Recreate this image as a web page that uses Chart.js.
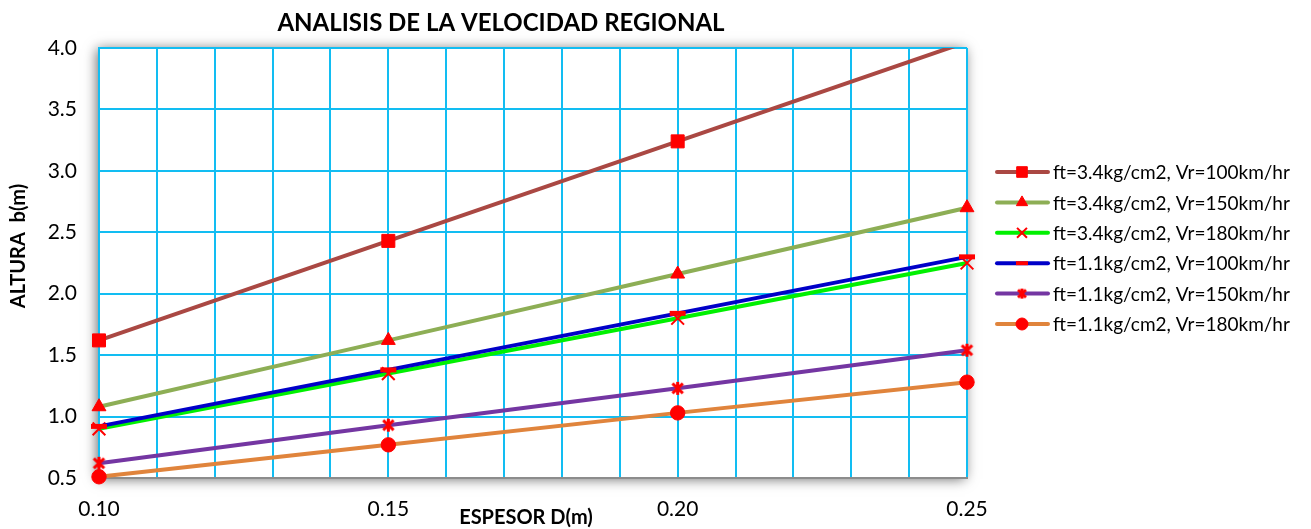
<!DOCTYPE html>
<html><head><meta charset="utf-8">
<script src="https://cdn.jsdelivr.net/npm/chart.js@4.4.1/dist/chart.umd.min.js"></script>
<style>html,body{margin:0;padding:0;background:#fff;}canvas{display:block;}</style>
</head><body>
<canvas id="c" width="1311" height="529"></canvas>
<script>
// ---- data ----
const chartTitle = 'ANALISIS DE LA VELOCIDAD REGIONAL';
const xTitle = 'ESPESOR D(m)';
const yTitle = 'ALTURA  b(m)';
const espesor = [0.10, 0.15, 0.20, 0.25];
const xTickLabels = ['0.10', '0.15', '0.20', '0.25'];
const yTickLabels = ['0.5', '1.0', '1.5', '2.0', '2.5', '3.0', '3.5', '4.0'];
const seriesLabels = [
  'ft=3.4kg/cm2, Vr=100km/hr',
  'ft=3.4kg/cm2, Vr=150km/hr',
  'ft=3.4kg/cm2, Vr=180km/hr',
  'ft=1.1kg/cm2, Vr=100km/hr',
  'ft=1.1kg/cm2, Vr=150km/hr',
  'ft=1.1kg/cm2, Vr=180km/hr'
];
const ft34vr100 = [1.62, 2.43, 3.24, 4.05];
const ft34vr150 = [1.08, 1.62, 2.16, 2.70];
const ft34vr180 = [0.90, 1.35, 1.80, 2.25];
const ft11vr100 = [0.92, 1.38, 1.84, 2.30];
const ft11vr150 = [0.62, 0.93, 1.23, 1.54];
const ft11vr180 = [0.51, 0.77, 1.03, 1.28];
const seriesValues = [ft34vr100, ft34vr150, ft34vr180, ft11vr100, ft11vr150, ft11vr180];

// ---- styles ----
const FONT = 'Lato, "Open Sans", sans-serif';
const GRID = '#12BDF2';
const MARK = '#FF0000';
const lineColors = ['#AA4843', '#8DAE55', '#00F000', '#0000C8', '#7436A2', '#E0843C'];
const Y_MIN = 0.5, Y_MAX = 4.0;

function starImg(size) {
  const c = document.createElement('canvas');
  c.width = size; c.height = size;
  const g = c.getContext('2d');
  g.strokeStyle = MARK; g.lineWidth = 3; g.lineCap = 'butt';
  const m = size / 2, r = size / 2 - 2;
  g.beginPath();
  g.moveTo(m - r * 0.8, m - r * 0.75); g.lineTo(m + r * 0.8, m + r * 0.75);
  g.moveTo(m + r * 0.8, m - r * 0.75); g.lineTo(m - r * 0.8, m + r * 0.75);
  g.moveTo(m, m - r); g.lineTo(m, m + r);
  g.stroke();
  return c;
}
const marker = [
  {pointStyle: 'rect', radius: 9.2, border: 1},
  {pointStyle: 'triangle', radius: 8, border: 1},
  {pointStyle: 'crossRot', radius: 9, border: 2},
  {pointStyle: 'line', radius: 8, border: 5},
  {pointStyle: starImg(17), radius: 8, border: 1},
  {pointStyle: 'circle', radius: 7.2, border: 1}
];
const legendMarker = [
  {pointStyle: 'rect', radius: 7.5, border: 1},
  {pointStyle: 'triangle', radius: 6.5, border: 1},
  {pointStyle: 'crossRot', radius: 7, border: 2},
  {pointStyle: 'line', radius: 6, border: 4},
  {pointStyle: starImg(14), radius: 7, border: 1},
  {pointStyle: 'circle', radius: 6, border: 1}
];

const datasets = seriesValues.map((vals, i) => ({
  label: seriesLabels[i],
  data: espesor.map((x, j) => ({x: x, y: vals[j]})),
  borderColor: lineColors[i],
  borderWidth: 4,
  backgroundColor: lineColors[i],
  pointStyle: marker[i].pointStyle,
  pointRadius: ctx => (ctx.raw && ctx.raw.y > Y_MAX) ? 0 : marker[i].radius,
  pointBorderWidth: marker[i].border,
  pointBackgroundColor: MARK,
  pointBorderColor: MARK,
  tension: 0,
  order: seriesValues.length - i,
  clip: {left: 30, right: 30, top: 0, bottom: 30}
}));

const plotShadow = {
  id: 'plotShadow',
  beforeDraw(chart) {
    const a = chart.chartArea, ctx = chart.ctx;
    ctx.save();
    ctx.shadowColor = 'rgba(0,0,0,0.6)';
    ctx.shadowBlur = 12;
    ctx.shadowOffsetX = -2;
    ctx.shadowOffsetY = 1;
    ctx.fillStyle = '#fff';
    ctx.fillRect(a.left, a.top, a.right - a.left, a.bottom - a.top);
    ctx.restore();
  }
};

const texts = {
  id: 'texts',
  afterDraw(chart) {
    const ctx = chart.ctx;
    ctx.save();
    ctx.fillStyle = '#000';
    ctx.textBaseline = 'middle';
    ctx.textAlign = 'center';
    ctx.font = 'bold 24px ' + FONT;
    ctx.fillText(chartTitle, 501, 23);
    ctx.font = 'bold 20px ' + FONT;
    ctx.fillText(xTitle, 526, 518);
    ctx.font = 'bold 20px ' + FONT;
    ctx.translate(19, 246);
    ctx.rotate(-Math.PI / 2);
    ctx.fillText(yTitle, 0, 0);
    ctx.restore();

    // legend
    ctx.save();
    chart.data.datasets.forEach((ds, i) => {
      const y = 172 + i * 30.4;
      ctx.strokeStyle = ds.borderColor;
      ctx.lineWidth = 4;
      ctx.lineCap = 'round';
      ctx.beginPath();
      ctx.moveTo(997, y); ctx.lineTo(1048, y);
      ctx.stroke();
      ctx.fillStyle = MARK;
      ctx.strokeStyle = MARK;
      ctx.lineWidth = legendMarker[i].border;
      ctx.lineCap = 'butt';
      Chart.helpers.drawPoint(ctx, {pointStyle: legendMarker[i].pointStyle, radius: legendMarker[i].radius, rotation: 0, borderWidth: legendMarker[i].border}, 1022, y);
      ctx.fillStyle = '#000';
      ctx.font = '19px ' + FONT;
      ctx.textAlign = 'left';
      ctx.textBaseline = 'middle';
      ctx.fillText(ds.label, 1053, y + 1);
    });
    ctx.restore();
  }
};

new Chart(document.getElementById('c'), {
  type: 'line',
  data: {datasets: datasets},
  options: {
    responsive: false,
    animation: false,
    events: [],
    layout: {padding: {left: 0, right: 344, top: 48, bottom: 0}},
    plugins: {legend: {display: false}, title: {display: false}, tooltip: {enabled: false}},
    scales: {
      x: {
        type: 'linear',
        min: 0.10, max: 0.25,
        afterBuildTicks: s => { s.ticks = []; for (let k = 10; k <= 25; k++) s.ticks.push({value: k / 100}); },
        afterFit: s => { s.height = 51; },
        grid: {color: GRID, lineWidth: 2, drawTicks: false},
        border: {display: true, color: '#8C8C8C', width: 2},
        ticks: {
          autoSkip: false, maxRotation: 0, padding: 19,
          color: '#000', font: {family: FONT, size: 21},
          callback: v => xTickLabels.find(l => Math.abs(parseFloat(l) - v) < 1e-6) || ''
        }
      },
      y: {
        min: Y_MIN, max: Y_MAX,
        afterBuildTicks: s => { s.ticks = yTickLabels.map(l => ({value: parseFloat(l)})); },
        afterFit: s => { s.width = 99; },
        grid: {color: GRID, lineWidth: 2, drawTicks: false},
        border: {display: true, color: GRID, width: 2},
        ticks: {
          padding: 22, color: '#000', font: {family: FONT, size: 21},
          callback: v => yTickLabels.find(l => Math.abs(parseFloat(l) - v) < 1e-6) || ''
        }
      }
    }
  },
  plugins: [plotShadow, texts]
});
</script>
</body></html>
